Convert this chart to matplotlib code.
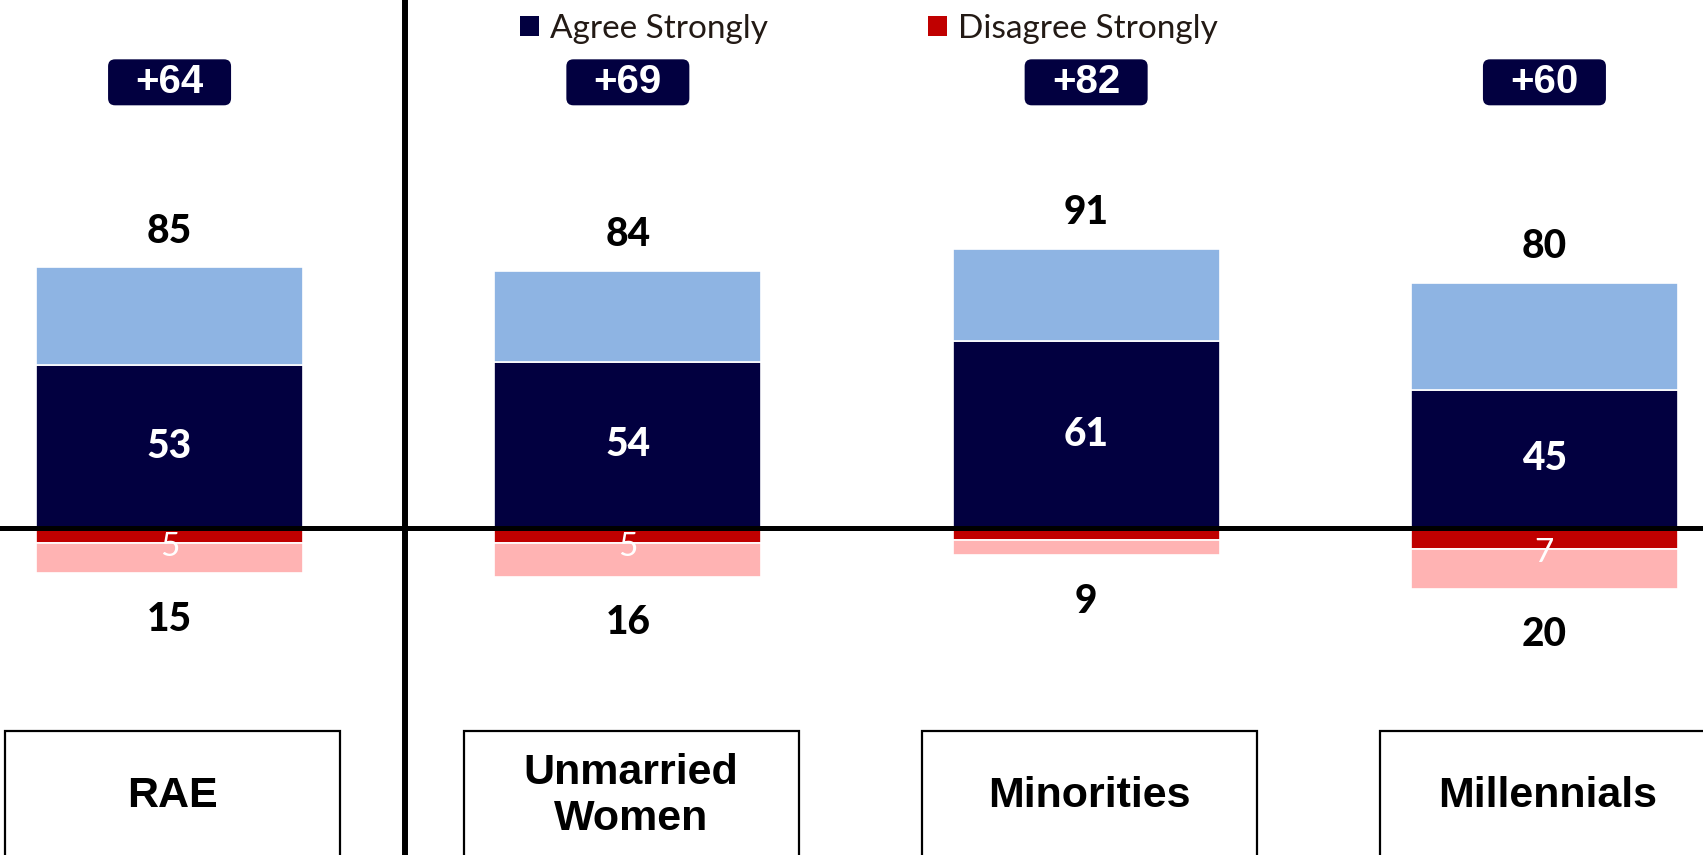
import matplotlib
matplotlib.use("Agg")
import matplotlib.pyplot as plt
from matplotlib.patches import Rectangle, FancyBboxPatch, Patch

# data
categories = ['RAE', 'Unmarried\nWomen', 'Minorities', 'Millennials']
agree_total = [85, 84, 91, 80]
agree_strong = [53, 54, 61, 45]
disagree_total = [15, 16, 9, 20]
disagree_strong = [5, 5, 4, 7]
net_values = [64, 69, 82, 60]

NAVY = '#020040'
LIGHT_BLUE = '#8EB4E3'
RED = '#C00000'
PINK = '#FFB3B3'

W, H, DPI = 17.03, 8.55, 100
fig = plt.figure(figsize=(W, H), dpi=DPI)
ax = fig.add_axes([0, 0, 1, 1])
xlim = (-0.37, 3.346)
ylim = (-107, 172.4)
ax.set_xlim(*xlim)
ax.set_ylim(*ylim)
ax.axis('off')

x = list(range(len(categories)))
bw = 0.583
light_part = [t - s for t, s in zip(agree_total, agree_strong)]
neg_strong = [-v for v in disagree_strong]
neg_light = [-(t - s) for t, s in zip(disagree_total, disagree_strong)]

ax.bar(x, agree_strong, bw, color=NAVY, edgecolor='white', linewidth=1.2, zorder=2)
ax.bar(x, light_part, bw, bottom=agree_strong, color=LIGHT_BLUE, edgecolor='white', linewidth=1.2, zorder=2)
ax.bar(x, neg_strong, bw, color=RED, edgecolor='white', linewidth=1.2, zorder=2)
ax.bar(x, neg_light, bw, bottom=neg_strong, color=PINK, edgecolor='white', linewidth=1.2, zorder=2)

num_font = ['Lato', 'DejaVu Sans']
arial = ['Liberation Sans', 'DejaVu Sans']

# px per data unit, for rounded boxes
px_x = W * DPI / (xlim[1] - xlim[0])
px_y = H * DPI / (ylim[1] - ylim[0])

for i in x:
    ax.text(i, agree_total[i] + 11.8, str(agree_total[i]), ha='center', va='center',
            fontsize=28, fontweight=900, family=num_font, color='black')
    ax.text(i, agree_strong[i] / 2, str(agree_strong[i]), ha='center', va='center',
            fontsize=28, fontweight=900, family=num_font, color='white', zorder=3)
    ax.text(i, -disagree_total[i] - 15, str(disagree_total[i]), ha='center', va='center',
            fontsize=28, fontweight=900, family=num_font, color='black')
    if disagree_strong[i] >= 5:
        ax.text(i, -disagree_strong[i] - 1.2, str(disagree_strong[i]), ha='center', va='center',
                fontsize=24, family=num_font, color='white', zorder=3)

    # net score box
    bx_w, bx_h = 123 / px_x, 46 / px_y
    ny = 145.5
    box = FancyBboxPatch((i - bx_w / 2, ny - bx_h / 2), bx_w, bx_h,
                         boxstyle='round,pad=0,rounding_size=%f' % (7 / px_x),
                         mutation_aspect=px_x / px_y,
                         facecolor=NAVY, edgecolor='none', zorder=3)
    ax.add_patch(box)
    ax.text(i, ny, '+%d' % net_values[i], ha='center', va='center',
            fontsize=29, fontweight='bold', family=arial, color='white', zorder=4)

    # category label boxes
    cw = 335 / px_x
    ax.add_patch(Rectangle((i + 0.007 - cw / 2, -66.5), cw, -50, facecolor='white',
                           edgecolor='black', linewidth=1.6, zorder=2, clip_on=True))
    ax.text(i + 0.007, -87.6, categories[i], ha='center', va='center', fontsize=31,
            fontweight='bold', family=arial, color='black', linespacing=1.2, zorder=3)

# zero line and divider
ax.axhline(0, color='black', linewidth=3.6, zorder=4)
ax.axvline(0.513, color='black', linewidth=4.3, zorder=4)

handles = [Patch(facecolor=NAVY, edgecolor='none'), Patch(facecolor=RED, edgecolor='none')]
leg = ax.legend(handles, ['Agree Strongly', 'Disagree Strongly'], loc='center left',
                bbox_to_anchor=(0.288, 0.966), ncol=2, frameon=False,
                handlelength=0.55, handleheight=0.55, handletextpad=0.35,
                columnspacing=4.8, prop={'family': num_font, 'size': 24})
for t in leg.get_texts():
    t.set_color('#231A15')

fig.savefig('out.png', dpi=DPI)
